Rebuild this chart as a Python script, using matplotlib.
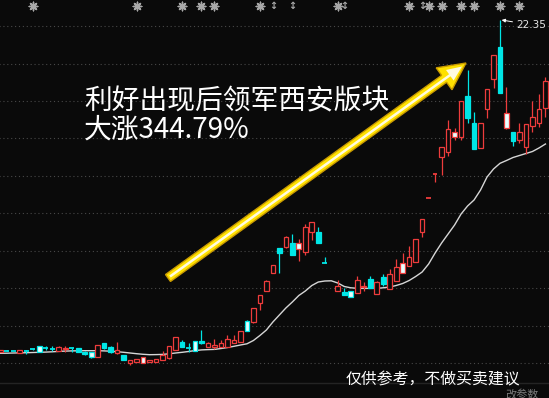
import numpy as np
import matplotlib
matplotlib.use("Agg")
import matplotlib.pyplot as plt
from matplotlib.patches import Rectangle, FancyArrow
from matplotlib.transforms import blended_transform_factory

plt.rcParams['font.family'] = ['Noto Sans CJK SC', 'DejaVu Sans']

nan = float('nan')

# daily candles (index 51 is a gap / no trading)
OPEN = [5.677, 5.745, 5.730, 5.646, 5.730, 5.815, 5.963, 5.880, 5.830, 5.742,
        5.812, 5.895, 5.862, 5.692, 5.692, 5.440, 6.113, 5.943, 5.611, 5.526,
        5.104, 5.174, 5.139, 5.174, 5.174, 5.275, 5.360, 5.777, 6.194, 5.895,
        6.244, 6.229, 5.943, 5.943, 5.943, 5.943, 6.143, 6.194, 7.252, 7.201,
        8.122, 8.755, 9.629, 10.884, 10.935, 11.135, 10.834, 10.714, 11.718, 11.688,
        10.136, nan, 8.755, 8.705, 8.755, 8.655, 8.926, 9.328, 8.589, 9.458,
        8.825, 9.242, 9.659, 10.011, 10.211, 11.718, 13.390, 14.595, 15.485, 15.736,
        16.489, 16.489, 18.533, 17.162, 15.936, 17.865, 19.387, 21.009, 16.911, 16.710,
        16.323, 15.987, 17.026, 17.162, 17.945]
CLOSE = [5.777, 5.740, 5.725, 5.792, 5.725, 5.810, 5.677, 5.875, 5.825, 5.928,
         5.892, 5.890, 5.692, 5.561, 5.410, 6.013, 5.862, 5.692, 5.777, 5.275,
         5.255, 5.325, 5.410, 5.275, 5.325, 5.526, 5.978, 6.445, 5.928, 5.890,
         5.742, 6.143, 6.113, 6.028, 6.143, 6.329, 6.279, 6.746, 6.746, 7.871,
         8.539, 9.257, 10.046, 10.633, 11.467, 10.548, 11.166, 11.939, 12.190, 11.135,
         10.131, nan, 8.991, 8.539, 8.454, 9.292, 8.991, 8.876, 9.207, 9.092,
         9.594, 9.960, 10.161, 10.432, 11.336, 12.341, 13.395, 14.601, 15.957, 16.861,
         16.740, 18.282, 17.413, 15.856, 17.192, 18.869, 20.592, 18.668, 17.664, 16.288,
         16.710, 17.127, 17.493, 17.865, 19.286]
HIGH = [5.800, 5.760, 5.740, 5.800, 5.777, 5.820, 5.970, 5.978, 5.978, 5.993,
        5.978, 5.895, 5.870, 5.750, 5.700, 6.020, 6.120, 5.978, 6.163, 5.530,
        5.260, 5.330, 5.420, 5.280, 5.330, 5.727, 5.990, 6.450, 6.279, 6.113,
        6.250, 6.781, 6.194, 6.314, 6.279, 6.530, 6.530, 6.750, 7.260, 7.880,
        8.550, 9.270, 10.060, 10.890, 11.480, 11.603, 11.336, 12.105, 12.200, 11.969,
        10.463, nan, 9.292, 8.876, 8.760, 9.493, 9.207, 9.493, 9.220, 9.594,
        9.830, 10.332, 10.664, 11.000, 11.350, 12.350, 13.400, 14.601, 15.970, 17.328,
        16.911, 18.290, 19.839, 17.744, 17.200, 18.880, 20.600, 22.350, 19.000, 16.720,
        17.192, 17.130, 18.282, 18.618, 19.472]
LOW = [5.660, 5.720, 5.720, 5.640, 5.576, 5.800, 5.670, 5.777, 5.742, 5.742,
       5.692, 5.692, 5.680, 5.526, 5.400, 5.430, 5.850, 5.646, 5.600, 5.270,
       5.039, 5.170, 5.130, 5.170, 5.170, 5.270, 5.350, 5.770, 5.920, 5.692,
       5.730, 6.078, 5.940, 5.812, 5.940, 5.940, 6.140, 6.190, 6.740, 7.121,
       7.786, 8.740, 9.620, 9.629, 10.920, 10.540, 10.262, 10.548, 11.301, 11.130,
       10.130, nan, 8.750, 8.530, 8.450, 8.650, 8.755, 8.870, 8.580, 8.991,
       8.820, 9.240, 9.650, 10.000, 10.200, 11.437, 13.390, 14.229, 14.565, 15.520,
       16.323, 16.323, 17.162, 15.850, 15.930, 17.413, 18.920, 18.660, 16.900, 16.037,
       16.188, 15.620, 16.740, 16.991, 17.493]

# moving average line (white)
MA = [5.611, 5.616, 5.626, 5.631, 5.641, 5.651, 5.661, 5.672, 5.687, 5.707,
      5.722, 5.732, 5.737, 5.742, 5.742, 5.742, 5.732, 5.717, 5.692, 5.661,
      5.626, 5.591, 5.561, 5.541, 5.546, 5.556, 5.586, 5.626, 5.661, 5.702,
      5.747, 5.782, 5.797, 5.807, 5.852, 5.902, 5.963, 6.028, 6.088, 6.254,
      6.505, 6.781, 7.183, 7.535, 7.886, 8.188, 8.514, 8.740, 9.016, 9.192,
      9.242, 9.252, 9.142, 8.966, 8.901, 8.876, 8.871, 8.871, 8.876, 8.901,
      8.941, 9.016, 9.117, 9.267, 9.468, 9.694, 10.096, 10.648, 11.151, 11.603,
      12.054, 12.607, 13.009, 13.310, 13.812, 14.465, 14.867, 15.153, 15.294, 15.444,
      15.545, 15.645, 15.746, 15.921, 16.122]

# info markers on top row
STAR_DAYS = [5, 21, 28, 31, 33, 40, 52, 63, 66, 68, 71, 73, 77, 80]
UPDOWN_DAYS = [42, 45, 53, 65]

PEAK = 22.35
TITLE_1 = '利好出现后领军西安版块'
TITLE_2 = '大涨344.79%'
NOTE = '仅供参考，不做买卖建议'
FOOT = '改参数'

BG = '#0a0a0a'
RED = '#ee3c3c'
CYAN = '#00e6e6'
W = 0.72

fig = plt.figure(figsize=(5.49, 3.98), dpi=100, facecolor=BG)
ax = fig.add_axes([0, 0, 1, 1], facecolor=BG)

# price scale: ~0.0502 per pixel, top of figure = 23.354
y_top, px = 23.354, 0.05022
ax.set_ylim(y_top - 398 * px, y_top)
ax.set_xlim(-0.05, 84.55)
ax.axis('off')

grid = y_top - px * (26 + 37.5 * np.arange(10))
ax.hlines(grid, -1, 86, colors='#484848', lw=0.8, linestyles=(0, (1, 2.5)), zorder=0)

ax.plot(np.arange(len(MA)), MA, color='#d6d6d6', lw=1.0, zorder=1)

highlight = set(range(6, len(OPEN), 8))
for i, (o, c, h, l) in enumerate(zip(OPEN, CLOSE, HIGH, LOW)):
    if np.isnan(o):
        continue
    up = c >= o
    col = RED if up else CYAN
    ax.vlines(i, l, h, color=col, lw=0.9, zorder=2)
    if abs(c - o) < 0.02:
        ax.hlines(o, i - W / 2, i + W / 2, color=col, lw=1.3, zorder=3)
        continue
    if i in highlight:
        face = '#e8ffff'
    elif up:
        face = BG
    else:
        face = CYAN
    ax.add_patch(Rectangle((i - W / 2, min(o, c)), W, abs(c - o),
                           facecolor=face, edgecolor=col, lw=0.9, zorder=3))

# top row markers
tr = blended_transform_factory(ax.transData, ax.transAxes)
ax.scatter(STAR_DAYS, [0.986] * len(STAR_DAYS), transform=tr, marker=(8, 2, 0),
           s=38, color='#a8a8a8', lw=1.0, zorder=5)
ax.scatter(STAR_DAYS, [0.986] * len(STAR_DAYS), transform=tr, marker='o',
           s=10, color='#a8a8a8', zorder=5)
for d in UPDOWN_DAYS:
    ax.text(d, 0.986, '↕', transform=tr, color='#a8a8a8', fontsize=7,
            ha='center', va='center', family='DejaVu Sans', fontweight='bold')

# peak label
peak_day = int(np.nanargmax(HIGH))
ax.annotate(f'{PEAK:.2f}', xy=(peak_day + 0.25, PEAK), xytext=(15, -5),
            textcoords='offset pixels', color='#e6e6e6', fontsize=7.5,
            family='DejaVu Sans', ha='left', va='center',
            arrowprops=dict(arrowstyle='-|>', color='white', lw=0.7,
                            mutation_scale=5, shrinkA=1, shrinkB=0))

# overlay in pixel units for arrow and captions
ov = fig.add_axes([0, 0, 1, 1])
ov.set_xlim(0, 549)
ov.set_ylim(398, 0)
ov.axis('off')
ov.patch.set_alpha(0)

ov.add_patch(FancyArrow(168, 278, 298, -215, width=8.5, head_width=27, head_length=27,
                        length_includes_head=True, facecolor='#ffe100',
                        edgecolor='#c99a00', lw=1.0, zorder=4))
ov.add_patch(FancyArrow(170, 276.5, 292, -210, width=2.5, head_width=13, head_length=15,
                        length_includes_head=True, facecolor='#fffbe0',
                        edgecolor='none', zorder=5))

ov.text(84, 101, TITLE_1, color='white', fontsize=20, ha='left', va='center')
ov.text(84, 130, TITLE_2, color='white', fontsize=20, ha='left', va='center')

ov.plot([0, 549], [382.5, 382.5], color='#242424', lw=1.0)
ov.text(346, 379.5, NOTE, color='white', fontsize=11.4, ha='left', va='center')
ov.text(505, 394, FOOT, color='#7a7a7a', fontsize=8, ha='left', va='center')

fig.savefig('out.png', dpi=100, facecolor=BG)
